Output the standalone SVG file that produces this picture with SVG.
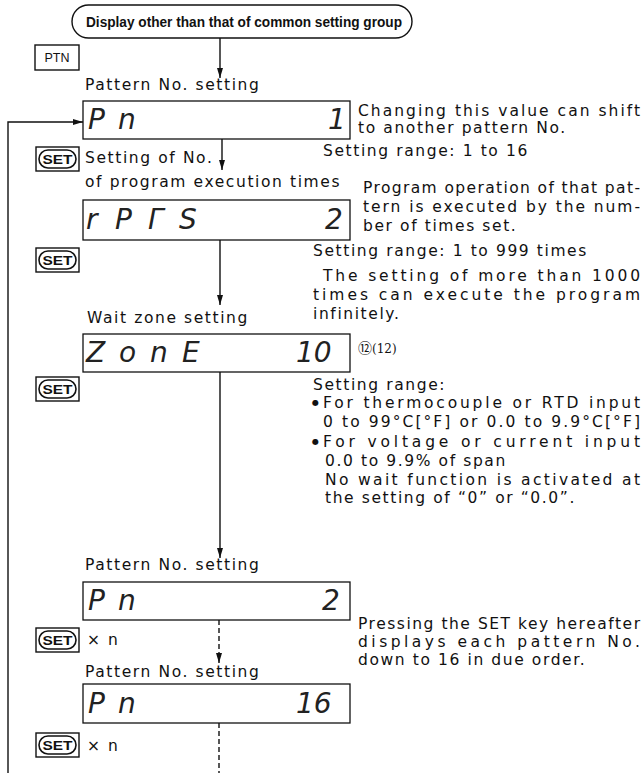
<svg xmlns="http://www.w3.org/2000/svg" width="643" height="773" viewBox="0 0 643 773">
<style>
text{fill:#111}
.lbl{font-family:"DejaVu Sans",sans-serif;font-size:15.5px;letter-spacing:1.6px}
.jl{font-family:"DejaVu Sans",sans-serif;font-size:15.5px}
.seg{font-family:"DejaVu Sans",sans-serif;font-weight:200;font-style:italic;font-size:28px;fill:#222}
.box{fill:#fff;stroke:#111;stroke-width:1.3}
.key{fill:#fff;stroke:#111;stroke-width:1.4}
.keyin{fill:none;stroke:#111;stroke-width:1.6}
.keyt{font-family:"Liberation Sans",sans-serif;font-weight:bold;font-size:12px}
.ln{stroke:#111;stroke-width:1.4;fill:none}
.dash{stroke:#111;stroke-width:1.4;fill:none;stroke-dasharray:5 3}
</style>
<defs>
<marker id="ah" markerUnits="userSpaceOnUse" markerWidth="10" markerHeight="8" refX="10" refY="4" orient="auto">
<path d="M0,1 L10,4 L0,7 z" fill="#111"/>
</marker>
<g id="setkey">
<rect class="key" x="0" y="0" width="43" height="24"/>
<rect class="keyin" x="3" y="3" width="37" height="18" rx="9"/>
<text class="keyt" x="21.5" y="16.5" text-anchor="middle" textLength="30" lengthAdjust="spacingAndGlyphs">SET</text>
</g>
</defs>

<g id="connectors">
<line class="ln" x1="220" y1="38" x2="220" y2="78" marker-end="url(#ah)"/>
<path class="ln" d="M8,773 V122 H83" marker-end="url(#ah)"/>
<line class="ln" x1="222" y1="139" x2="222" y2="170" marker-end="url(#ah)"/>
<line class="ln" x1="220" y1="240" x2="220" y2="305" marker-end="url(#ah)"/>
<line class="ln" x1="220" y1="372" x2="220" y2="558" marker-end="url(#ah)"/>
<line class="dash" x1="219" y1="620" x2="219" y2="663" marker-end="url(#ah)"/>
<line class="dash" x1="219" y1="723" x2="219" y2="773"/>
</g>

<g id="start">
<rect x="72" y="5" width="340" height="33" rx="16.5" fill="#fff" stroke="#111" stroke-width="1.4"/>
<text x="86" y="27" font-family="Liberation Sans, sans-serif" font-weight="bold" font-size="14" textLength="316" lengthAdjust="spacingAndGlyphs">Display other than that of common setting group</text>
</g>

<g id="ptn-key">
<rect class="key" x="35" y="45" width="44" height="25"/>
<text x="57" y="62" text-anchor="middle" font-family="Liberation Sans, sans-serif" font-size="12" textLength="25" lengthAdjust="spacingAndGlyphs">PTN</text>
</g>

<g id="pattern1">
<text class="lbl" x="85" y="90">Pattern No. setting</text>
<rect class="box" x="83" y="101" width="267" height="38"/>
<text class="seg" x="88" y="129">P</text>
<text class="seg" x="118" y="129">n</text>
<text class="seg" x="328" y="129">1</text>
<text class="jl" x="358" y="116" textLength="282" lengthAdjust="spacing">Changing this value can shift</text>
<text class="lbl" x="358" y="133">to another pattern No.</text>
<text class="lbl" x="323" y="156">Setting range: 1 to 16</text>
</g>

<g id="set1">
<use href="#setkey" x="36" y="147"/>
<text class="lbl" x="85" y="163">Setting of No.</text>
</g>

<g id="repeat">
<text class="lbl" x="85" y="187">of program execution times</text>
<rect class="box" x="83" y="200" width="267" height="40"/>
<text class="seg" x="86" y="229">r</text>
<text class="seg" x="115" y="229">P</text>
<text class="seg" x="148" y="229">Γ</text>
<text class="seg" x="179" y="229">S</text>
<text class="seg" x="325" y="229">2</text>
<text class="jl" x="363" y="193" textLength="277" lengthAdjust="spacing">Program operation of that pat-</text>
<text class="jl" x="363" y="212" textLength="277" lengthAdjust="spacing">tern is executed by the num-</text>
<text class="lbl" x="363" y="231">ber of times set.</text>
<text class="lbl" x="313" y="256">Setting range: 1 to 999 times</text>
<text class="jl" x="323" y="281" textLength="317" lengthAdjust="spacing">The setting of more than 1000</text>
<text class="jl" x="313" y="300" textLength="327" lengthAdjust="spacing">times can execute the program</text>
<text class="lbl" x="313" y="319">infinitely.</text>
</g>

<g id="set2">
<use href="#setkey" x="36" y="248"/>
</g>

<g id="waitzone">
<text class="lbl" x="87" y="323">Wait zone setting</text>
<rect class="box" x="83" y="334" width="267" height="38"/>
<text class="seg" x="86" y="362">Z</text>
<text class="seg" x="119" y="362">o</text>
<text class="seg" x="150" y="362">n</text>
<text class="seg" x="182" y="362">E</text>
<text class="seg" x="296" y="362">10</text>
<text x="358" y="353" font-family="DejaVu Serif, Noto Sans CJK JP, serif" font-size="12"><tspan font-family="Noto Sans CJK JP, sans-serif" font-size="14">⑫</tspan>(12)</text>
<text class="lbl" x="313" y="390">Setting range:</text>
<text x="312" y="405" font-family="DejaVu Sans, sans-serif" font-size="8">●</text>
<text class="jl" x="323" y="408" textLength="317" lengthAdjust="spacing">For thermocouple or RTD input</text>
<text class="jl" x="323" y="427" textLength="317" lengthAdjust="spacing">0 to 99°C[°F] or 0.0 to 9.9°C[°F]</text>
<text x="312" y="444" font-family="DejaVu Sans, sans-serif" font-size="8">●</text>
<text class="jl" x="323" y="447" textLength="317" lengthAdjust="spacing">For voltage or current input</text>
<text class="lbl" x="325" y="466">0.0 to 9.9% of span</text>
<text class="jl" x="325" y="485" textLength="315" lengthAdjust="spacing">No wait function is activated at</text>
<text class="lbl" x="325" y="503">the setting of “0” or “0.0”.</text>
</g>

<g id="set3">
<use href="#setkey" x="36" y="377"/>
</g>

<g id="pattern2">
<text class="lbl" x="85" y="570">Pattern No. setting</text>
<rect class="box" x="83" y="582" width="267" height="38"/>
<text class="seg" x="88" y="610">P</text>
<text class="seg" x="118" y="610">n</text>
<text class="seg" x="322" y="610">2</text>
<text class="jl" x="358" y="629" textLength="282" lengthAdjust="spacing">Pressing the SET key hereafter</text>
<text class="jl" x="358" y="647" textLength="282" lengthAdjust="spacing">displays each pattern No.</text>
<text class="lbl" x="358" y="665">down to 16 in due order.</text>
</g>

<g id="set4">
<use href="#setkey" x="36" y="628"/>
<text class="lbl" x="87" y="645">× n</text>
</g>

<g id="pattern16">
<text class="lbl" x="85" y="677">Pattern No. setting</text>
<rect class="box" x="83" y="684" width="267" height="39"/>
<text class="seg" x="88" y="713">P</text>
<text class="seg" x="118" y="713">n</text>
<text class="seg" x="296" y="713">16</text>
</g>

<g id="set5">
<use href="#setkey" x="36" y="733"/>
<text class="lbl" x="87" y="751">× n</text>
</g>
</svg>
